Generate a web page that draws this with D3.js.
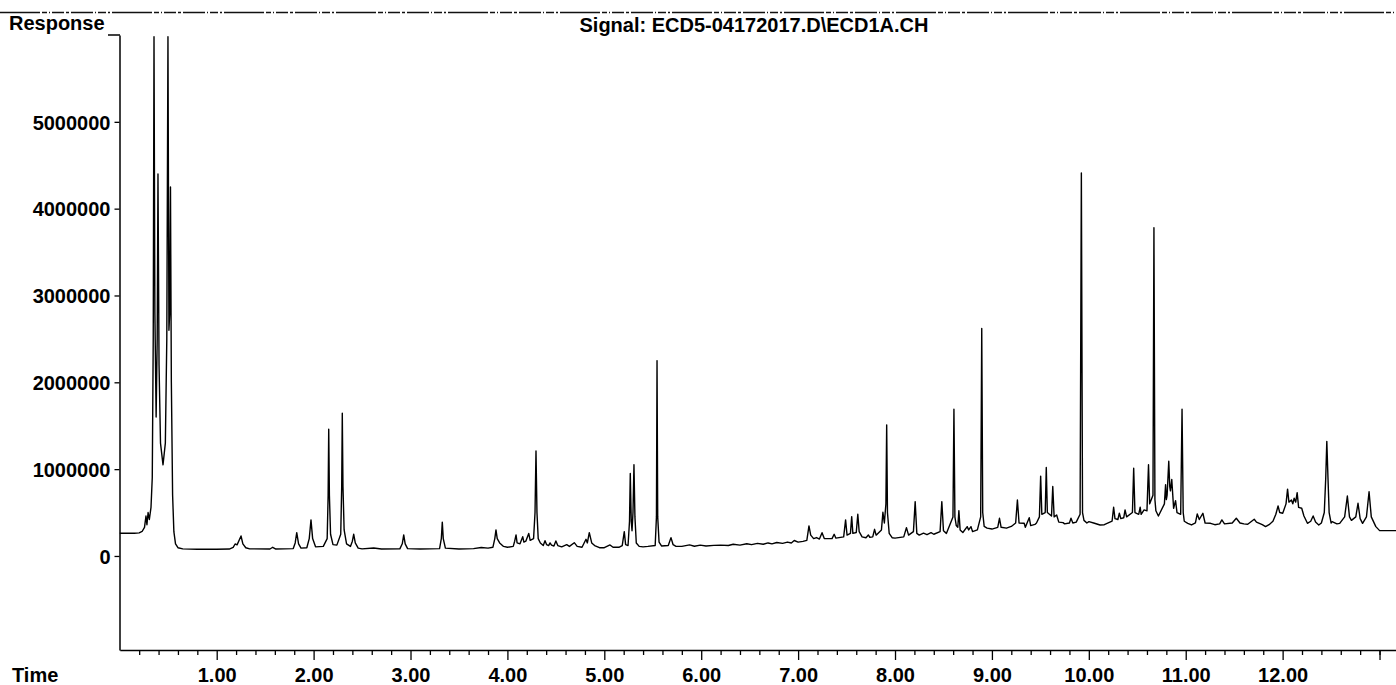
<!DOCTYPE html>
<html>
<head>
<meta charset="utf-8">
<script src="https://cdn.jsdelivr.net/npm/d3@7/dist/d3.min.js"></script>
<style>
  html, body { margin: 0; padding: 0; background: #fff; }
  svg { display: block; }
  text { font-family: "Liberation Sans", Arial, sans-serif; fill: #000; }
</style>
</head>
<body>
<svg id="chart" width="1396" height="685"></svg>
<script>
// ---------- data (time in minutes, response in thousands of counts) ----------
const titleText = "Signal: ECD5-04172017.D\\ECD1A.CH";
const yAxisTitle = "Response";
const xAxisTitle = "Time";
const yTicks = [0, 1000000, 2000000, 3000000, 4000000, 5000000];
const xMajorTicks = [1, 2, 3, 4, 5, 6, 7, 8, 9, 10, 11, 12, 13];
const xMinorTicks = [0.2,0.4,0.6,0.8,1.2,1.4,1.6,1.8,2.2,2.4,2.6,2.8,3.2,3.4,3.6,3.8,4.2,4.4,4.6,4.8,
  5.2,5.4,5.6,5.8,6.2,6.4,6.6,6.8,7.2,7.4,7.6,7.8,8.2,8.4,8.6,8.8,9.2,9.4,9.6,9.8,
  10.2,10.4,10.6,10.8,11.2,11.4,11.6,11.8,12.2,12.4,12.6,12.8,13.0];
const responseUnit = 1000;

const traceEarly = [
  [0.000,262],[0.150,262],[0.200,266],[0.230,282],[0.255,330],[0.270,460],[0.280,360],[0.292,500],
  [0.305,420],[0.322,560],[0.335,900],[0.345,2500],[0.353,5980],[0.362,2800],[0.375,1600],[0.386,2500],
  [0.394,4400],[0.405,2200],[0.420,1300],[0.446,1050],[0.470,1300],[0.485,2500],[0.497,5980],[0.507,2600],
  [0.515,2800],[0.523,4250],[0.532,2000],[0.545,700],[0.558,280],[0.575,140],[0.600,95],[0.650,82],
  [0.800,78],[1.000,78],[1.130,80]
];
const traceA = [
  [1.170,100],[1.190,138],[1.210,128],[1.235,190],[1.251,230],[1.270,140],[1.300,95],[1.340,82],
  [1.550,80],[1.578,100],[1.610,80],[1.790,85],[1.810,150],[1.826,268],[1.845,140],[1.870,90],
  [1.930,95],[1.955,200],[1.973,415],[1.990,200],[2.020,105],[2.100,110],[2.140,200],[2.150,700],
  [2.156,1460],[2.163,700],[2.175,250],[2.200,130],[2.240,125],[2.280,250],[2.290,800],[2.296,1645],
  [2.303,800],[2.315,300],[2.340,140],[2.380,110],[2.400,170],[2.414,250],[2.430,150],[2.460,90],
  [2.500,82],[2.620,92],[2.700,80],[2.890,82],[2.915,140],[2.930,242],[2.945,140],[2.970,85],
  [3.100,80],[3.300,85],[3.318,200],[3.328,390],[3.338,200],[3.360,90],[3.500,80],[3.650,85],
  [3.730,98],[3.800,90],[3.850,100],[3.870,200],[3.882,300],[3.895,200],[3.920,150],[3.960,110],
  [4.000,100],[4.060,110],[4.075,170],[4.089,242],[4.100,150],[4.130,140],[4.158,222],[4.170,160],
  [4.190,170],[4.220,260],[4.235,180],[4.270,200],[4.285,500],[4.295,1210],[4.305,500],[4.318,200],
  [4.340,150],[4.370,120],[4.388,176],[4.405,130],[4.425,120],[4.440,150],[4.455,125],[4.480,115],
  [4.500,173],[4.520,120],[4.560,105],[4.612,130],[4.640,110],[4.690,153],[4.720,110],[4.770,100],
  [4.811,192],[4.825,150],[4.845,268],[4.870,150],[4.900,120],[4.950,95],[5.000,95]
];
const traceB = [
  [5.059,127],[5.090,100],[5.150,100],[5.185,120],[5.206,280],[5.220,130],[5.245,120],[5.260,400],
  [5.268,950],[5.278,400],[5.286,290],[5.296,500],[5.306,1050],[5.316,450],[5.330,150],[5.360,110],
  [5.400,105],[5.450,110],[5.525,120],[5.538,450],[5.544,2250],[5.551,450],[5.565,160],[5.590,115],
  [5.660,120],[5.688,211],[5.710,130],[5.740,110],[5.800,110],[5.880,128],[5.930,112],[5.990,125],
  [6.050,115],[6.130,122],[6.200,125],[6.280,120],[6.330,135],[6.400,125],[6.470,140],[6.520,130],
  [6.580,145],[6.640,135],[6.690,150],[6.730,140],[6.780,155],[6.840,145],[6.890,160],[6.930,150],
  [6.960,178],[7.000,160],[7.050,168],[7.090,180],[7.112,346],[7.130,240],[7.160,200],[7.190,212],
  [7.220,195],[7.247,268],[7.270,200],[7.350,200],[7.372,250],[7.390,205],[7.470,220],[7.490,415],
  [7.505,240],[7.540,260],[7.553,453],[7.565,260],[7.600,270],[7.616,480],[7.630,280],[7.660,220],
  [7.700,210],[7.725,242],[7.740,215],[7.770,220],[7.789,307],[7.805,240],[7.860,300],[7.875,503],
  [7.890,380],[7.906,600],[7.914,1510],[7.922,500],[7.940,260],[7.970,210],[8.000,205]
];
const traceC = [
  [8.090,220],[8.118,326],[8.140,240],[8.190,280],[8.208,626],[8.225,260],[8.250,240],[8.294,262],
  [8.330,245],[8.372,268],[8.400,250],[8.465,280],[8.483,626],[8.500,290],[8.530,260],[8.598,450],
  [8.608,1690],[8.618,450],[8.632,350],[8.648,330],[8.659,522],[8.672,300],[8.700,270],[8.745,338],
  [8.760,300],[8.784,338],[8.800,280],[8.850,300],[8.884,450],[8.895,2620],[8.905,500],[8.920,340],
  [8.950,320],[9.000,310],[9.060,330],[9.078,434],[9.095,330],[9.150,320],[9.200,340],[9.245,380],
  [9.263,645],[9.280,380],[9.333,376],[9.345,330],[9.385,441],[9.400,350],[9.444,363],[9.460,380],
  [9.490,450],[9.503,920],[9.515,480],[9.550,500],[9.561,1020],[9.572,500],[9.615,460],[9.628,800],
  [9.642,450],[9.668,472],[9.690,390],[9.734,384],[9.750,370],[9.800,380],[9.816,434],[9.835,380],
  [9.870,390],[9.910,480],[9.923,4410],[9.935,500],[9.950,410],[9.980,380],
  [10.001,395],[10.050,380],[10.116,357],[10.160,360],[10.240,400],[10.256,561],[10.270,430],[10.300,420],
  [10.315,492],[10.330,430],[10.360,440],[10.374,530],[10.390,450],[10.450,500],[10.463,1010],[10.476,500],
  [10.515,480],[10.530,561],[10.540,480],[10.570,530],[10.600,520],[10.616,1050],[10.628,600],[10.662,700],
  [10.672,3780],[10.682,650],[10.692,520],[10.718,460],[10.780,600],[10.792,820],[10.800,650],[10.808,700],
  [10.825,1090],[10.835,800],[10.842,750],[10.856,880],[10.875,550],[10.895,637],[10.910,500],[10.948,480],
  [10.962,1690],[10.974,500],[10.985,400],[11.021,376],[11.060,357],[11.100,380],[11.119,484],[11.140,420],
  [11.177,492],[11.200,380],[11.256,376],[11.300,360],[11.350,370],[11.373,415],[11.400,370],[11.480,380],
  [11.522,434],[11.560,380],[11.600,370],[11.640,365],[11.707,423],[11.730,390],[11.790,360],[11.824,338],
  [11.860,360],[11.900,400],[11.930,480],[11.953,576],[11.970,500],[12.001,492],[12.035,600],[12.051,770],
  [12.065,620],[12.091,645],[12.105,600],[12.119,665],[12.135,620],[12.150,730],[12.165,560],[12.197,550],
  [12.220,460],[12.256,376],[12.290,400],[12.315,461],[12.340,390],[12.373,357],[12.400,380],[12.430,500],
  [12.445,900],[12.456,1320],[12.468,900],[12.480,500],[12.500,380],[12.511,395],[12.560,370],[12.589,376],
  [12.640,450],[12.668,690],[12.690,450],[12.710,410],[12.755,450],[12.778,607],[12.800,430],[12.825,376],
  [12.865,450],[12.892,740],[12.915,450],[12.962,338],[13.001,292],[13.170,292]
];

// ---------- chart ----------
const FONT = '"Liberation Sans", Arial, sans-serif';
const svg = d3.select("#chart");
const x = d3.scaleLinear().domain([0, 13.17]).range([119.8, 1396]);
const y = d3.scaleLinear().domain([-1083000, 6000000]).range([650, 35]);

// top separator (scanned dash-dot rule)
svg.append("line")
  .attr("x1", 0).attr("x2", 1396).attr("y1", 12.5).attr("y2", 12.5)
  .attr("stroke", "#111").attr("stroke-width", 1.5)
  .attr("stroke-dasharray", "40,2,5,2,1,2,12,2,3,2,22,2,1,2,8,2,2,2");

// titles
svg.append("text").attr("x", 754).attr("y", 32).attr("text-anchor", "middle")
  .attr("font-size", 20).attr("font-weight", "bold").text(titleText);
svg.append("text").attr("x", 9).attr("y", 30).attr("font-size", 20).attr("font-weight", "bold").text(yAxisTitle);
svg.append("text").attr("x", 12).attr("y", 682).attr("font-size", 20).attr("font-weight", "bold").text(xAxisTitle);

// y axis
const yAxis = d3.axisLeft(y).tickValues(yTicks).tickSize(5).tickSizeOuter(0).tickPadding(4)
  .tickFormat(d3.format("d"));
const gy = svg.append("g").attr("transform", "translate(119.5,0)").call(yAxis);
gy.selectAll("text").attr("font-size", 20).attr("font-weight", "bold").attr("dy", "0.36em")
  .style("font-family", FONT);
gy.select(".domain").attr("stroke-width", 1.5);
gy.selectAll(".tick line").attr("stroke-width", 1.3);
// top end tick of the response axis
svg.append("line").attr("x1", 108).attr("x2", 120).attr("y1", y(6000000)).attr("y2", y(6000000))
  .attr("stroke", "#000").attr("stroke-width", 1.5);

// x axis
const xAxis = d3.axisBottom(x).tickValues(xMajorTicks).tickSize(10).tickSizeOuter(0).tickPadding(8)
  .tickFormat(d => d < 13 ? d3.format(".2f")(d) : "");
const gx = svg.append("g").attr("transform", "translate(0,650)").call(xAxis);
gx.selectAll("text").attr("font-size", 20).attr("font-weight", "bold")
  .style("font-family", FONT);
gx.select(".domain").attr("stroke-width", 1.5);
gx.selectAll(".tick line").attr("stroke-width", 1.3);
const xMinor = d3.axisBottom(x).tickValues(xMinorTicks).tickSize(5).tickSizeOuter(0).tickFormat("");
const gxm = svg.append("g").attr("transform", "translate(0,650)").call(xMinor);
gxm.select(".domain").remove();
gxm.selectAll(".tick line").attr("stroke-width", 1.3);

// signal trace
const trace = traceEarly.concat(traceA, traceB, traceC);
const line = d3.line().x(d => x(d[0])).y(d => y(d[1] * responseUnit));
svg.append("path").datum(trace)
  .attr("d", line).attr("fill", "none")
  .attr("stroke", "#000").attr("stroke-width", 1.4).attr("stroke-linejoin", "round");
</script>
</body>
</html>
